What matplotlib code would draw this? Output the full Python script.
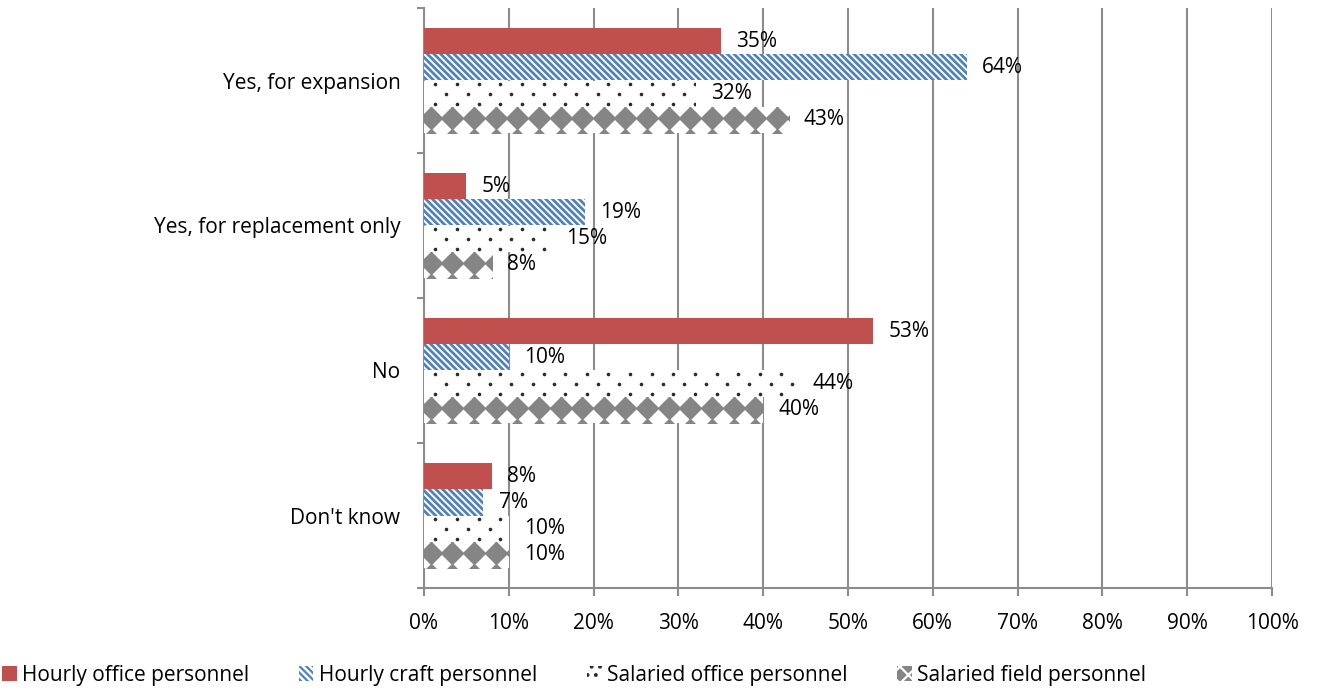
import matplotlib
matplotlib.use("Agg")
import matplotlib.pyplot as plt
from matplotlib.patches import Patch
import numpy as np

plt.rcParams['font.family'] = ['Open Sans', 'DejaVu Sans']

categories = ["Yes, for expansion", "Yes, for replacement only", "No", "Don't know"]
series_names = ["Hourly office personnel", "Hourly craft personnel",
                "Salaried office personnel", "Salaried field personnel"]
hourly_office = [35, 5, 53, 8]
hourly_craft = [64, 19, 10, 7]
salaried_office = [32, 15, 44, 10]
salaried_field = [43, 8, 40, 10]
x_ticks = list(range(0, 101, 10))

series = [hourly_office, hourly_craft, salaried_office, salaried_field]
red = "#C0504D"
blue = "#4F81BD"
dot_col = "#2A2A2A"
diamond_col = "#858585"
grid_col = "#8C8C8C"
fs = 15

fig = plt.figure(figsize=(13.2, 6.89), dpi=100)
ax = fig.add_axes([424 / 1320, 1 - 588 / 689, 848 / 1320, 580 / 689])

bar_h = 0.18
px = bar_h / 26          # one pixel in data units along y
step = 2.55              # pattern repeat along x, in percent
y = np.arange(len(categories))


def clipped_marks(bar, xs, yv, **kw):
    ln = ax.plot(xs, np.full_like(xs, yv), ls="none", zorder=3.5, **kw)[0]
    ln.set_clip_path(bar)


handles = []
for i, vals in enumerate(series):
    offs = (i - 1.5) * bar_h
    if i == 0:
        bars = ax.barh(y + offs, vals, height=bar_h, color=red, linewidth=0, zorder=3)
        handles.append(bars[0])
    elif i == 1:
        plt.rcParams['hatch.linewidth'] = 2.0
        bars = ax.barh(y + offs, vals, height=bar_h, color="white", edgecolor=blue,
                       hatch="\\\\\\\\\\", linewidth=0, zorder=3)
        for b in bars:
            if hasattr(b, "set_hatch_linewidth"):
                b.set_hatch_linewidth(2.0)
        handles.append(bars[0])
    elif i == 2:
        # staggered dot grid
        bars = ax.barh(y + offs, vals, height=bar_h, color="white", linewidth=0, zorder=3)
        for b, yy, v in zip(bars, y + offs, vals):
            for k, dy in enumerate((-10, 0, 10)):
                x0 = 1.35 if k != 1 else 1.35 + step / 2
                xs = np.arange(x0, v, step)
                clipped_marks(b, xs, yy + dy * px, marker="o", ms=2.6,
                              mfc=dot_col, mec="none")
        handles.append(Patch(facecolor="white", edgecolor=dot_col, hatch="..",
                             linewidth=0))
    else:
        # grey diamonds, one full row with the neighbouring rows peeking in
        bars = ax.barh(y + offs, vals, height=bar_h, color="white", linewidth=0, zorder=3)
        for b, yy, v in zip(bars, y + offs, vals):
            xs = np.arange(0.8, v + step, step)
            for dy in (-24, -2, 20):
                clipped_marks(b, xs, yy + dy * px, marker="D", ms=12.0,
                              mfc=diamond_col, mec="none")
        handles.append(Patch(facecolor=diamond_col, edgecolor="white", hatch="xx",
                             linewidth=0))
    for yy, v in zip(y + offs, vals):
        ax.annotate(f"{v}%", (v, yy), xytext=(11, 0), textcoords="offset points",
                    va="center", ha="left", fontsize=fs, color="black", zorder=4)

ax.set_xlim(0, 100)
ax.set_ylim(len(categories) - 0.5, -0.5)
ax.set_xticks(x_ticks)
ax.set_xticklabels([f"{t}%" for t in x_ticks], fontsize=fs)
ax.xaxis.grid(True, color=grid_col, linewidth=1.5, zorder=0)

# category boundaries carry the tick marks, names sit at the centres
ax.set_yticks(np.arange(-0.5, len(categories), 1.0))
ax.set_yticklabels([])
ax.set_yticks(y, minor=True)
ax.set_yticklabels(categories, minor=True, fontsize=fs)
ax.tick_params(axis="y", which="minor", length=0, pad=17)
ax.tick_params(axis="y", which="major", length=5, width=1.5, color=grid_col)
ax.tick_params(axis="x", length=6, width=1.5, color=grid_col, pad=12)

for s in ["top", "right"]:
    ax.spines[s].set_visible(False)
for s in ["left", "bottom"]:
    ax.spines[s].set_color(grid_col)
    ax.spines[s].set_linewidth(1.5)

plt.rcParams['hatch.linewidth'] = 1.6
fig.legend(handles, series_names, loc="center left",
           bbox_to_anchor=(2 / 1320, 1 - 675 / 689), ncol=4, frameon=False,
           fontsize=fs, handlelength=0.7, handleheight=0.7, handletextpad=0.25,
           columnspacing=2.4, borderaxespad=0, borderpad=0)

fig.savefig("out.png", dpi=100)
